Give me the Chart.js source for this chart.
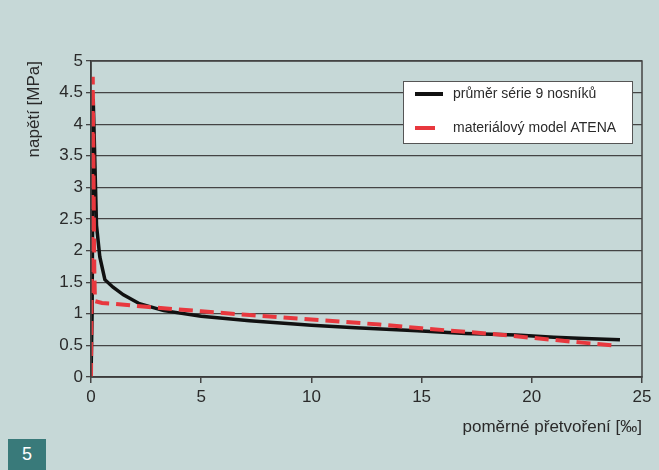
<!DOCTYPE html>
<html>
<head>
<meta charset="utf-8">
<script src="https://cdn.jsdelivr.net/npm/chart.js@4/dist/chart.umd.min.js"></script>
<style>
  html, body { margin: 0; padding: 0; background: #c6d8d7; }
  #wrap { position: relative; width: 659px; height: 470px; }
  #cislo {
    position: absolute; left: 8px; top: 439px; width: 38px; height: 31px;
    background: #397a7a; color: #fff; font: 18px "Liberation Sans", Arial, sans-serif;
    display: flex; align-items: center; justify-content: center;
  }
</style>
</head>
<body>
<div id="wrap">
  <canvas id="graf" width="659" height="470"></canvas>
  <div id="cislo">5</div>
</div>
<script>
// data
const xNosniky = [0, 0.05, 0.1, 0.25, 0.4, 0.63, 1.0, 1.47, 2.2, 3.3, 5, 7.2, 10, 12, 14.8, 17, 19.3, 21, 22.4, 24];
const yNosniky = [0, 1.0, 4.4, 2.4, 1.9, 1.54, 1.42, 1.3, 1.16, 1.05, 0.96, 0.89, 0.82, 0.78, 0.73, 0.69, 0.665, 0.63, 0.61, 0.59];

const xAtena = [0, 0.04, 0.08, 0.12, 0.15, 0.18, 0.5, 1.0, 2.5, 5, 7.2, 10, 13.1, 15, 18.6, 20, 22.4, 23.7];
const yAtena = [0, 2.0, 4.75, 3.0, 1.7, 1.2, 1.17, 1.16, 1.11, 1.04, 0.98, 0.91, 0.83, 0.77, 0.67, 0.62, 0.54, 0.5];

const xTicks = [0, 5, 10, 15, 20, 25];
const yTicks = [0, 0.5, 1, 1.5, 2, 2.5, 3, 3.5, 4, 4.5, 5];

const legendaTexty = ['průměr série 9 nosníků', 'materiálový model ATENA'];

const pismo = '"Liberation Sans", Arial, sans-serif';

function body(xs, ys) {
  return xs.map((x, i) => ({ x: x, y: ys[i] }));
}

// rámeček grafu a legenda uvnitř
const ramecekPlugin = {
  id: 'ramecek',
  afterDraw(chart) {
    const ctx = chart.ctx;
    const a = chart.chartArea;
    ctx.save();
    ctx.setLineDash([]);
    ctx.strokeStyle = '#444';
    ctx.lineWidth = 1.5;
    ctx.strokeRect(a.left, a.top, a.right - a.left, a.bottom - a.top);

    // legenda
    const lx = 403, ly = 81, lw = 229, lh = 62;
    ctx.fillStyle = '#fff';
    ctx.fillRect(lx, ly, lw, lh);
    ctx.strokeStyle = '#555';
    ctx.lineWidth = 1;
    ctx.strokeRect(lx + 0.5, ly + 0.5, lw, lh);

    const barvy = ['#111', '#e8383e'];
    const radky = [94, 128];
    const delky = [28, 20];
    ctx.font = '14px ' + pismo;
    ctx.textBaseline = 'middle';
    for (let i = 0; i < 2; i++) {
      ctx.strokeStyle = barvy[i];
      ctx.lineWidth = 4;
      ctx.lineCap = 'butt';
      ctx.beginPath();
      ctx.moveTo(415, radky[i]);
      ctx.lineTo(415 + delky[i], radky[i]);
      ctx.stroke();
      ctx.fillStyle = '#2a2a2a';
      ctx.fillText(legendaTexty[i], 453, radky[i]);
    }
    ctx.restore();
  }
};

new Chart(document.getElementById('graf'), {
  type: 'line',
  data: {
    datasets: [{
      label: legendaTexty[1],
      data: body(xAtena, yAtena),
      borderColor: '#e8383e',
      borderWidth: 4,
      borderDash: [14, 7],
      pointRadius: 0,
      tension: 0,
      order: 1
    }, {
      label: legendaTexty[0],
      data: body(xNosniky, yNosniky),
      borderColor: '#111',
      borderWidth: 3.5,
      pointRadius: 0,
      tension: 0,
      order: 2
    }]
  },
  plugins: [ramecekPlugin],
  options: {
    responsive: false,
    animation: false,
    layout: { padding: { top: 61, right: 17, bottom: 28, left: 20 } },
    plugins: {
      legend: { display: false },
      tooltip: { enabled: false }
    },
    scales: {
      x: {
        type: 'linear',
        min: 0,
        max: 25,
        afterFit: s => { s.height = 65; },
        afterBuildTicks: s => { s.ticks = xTicks.map(v => ({ value: v })); },
        grid: { drawOnChartArea: false, tickLength: 6, color: '#444', lineWidth: 1.5 },
        border: { color: '#222', width: 1.5 },
        ticks: { color: '#2a2a2a', font: { family: pismo, size: 17 }, padding: 4, maxRotation: 0 },
        title: {
          display: true,
          text: 'poměrné přetvoření [‰]',
          align: 'end',
          color: '#2a2a2a',
          font: { family: pismo, size: 17 },
          padding: { top: 4, bottom: 4 }
        }
      },
      y: {
        min: 0,
        max: 5,
        afterFit: s => { s.width = 71; },
        afterBuildTicks: s => { s.ticks = yTicks.map(v => ({ value: v })); },
        grid: { color: '#444', lineWidth: 1.3, tickLength: 5 },
        border: { color: '#222', width: 1.5 },
        ticks: {
          color: '#2a2a2a',
          font: { family: pismo, size: 17 },
          padding: 3,
          callback: v => String(v)
        },
        title: {
          display: true,
          text: 'napětí [MPa]',
          align: 'end',
          color: '#2a2a2a',
          font: { family: pismo, size: 17 },
          padding: { top: 4, bottom: 4 }
        }
      }
    }
  }
});
</script>
</body>
</html>
